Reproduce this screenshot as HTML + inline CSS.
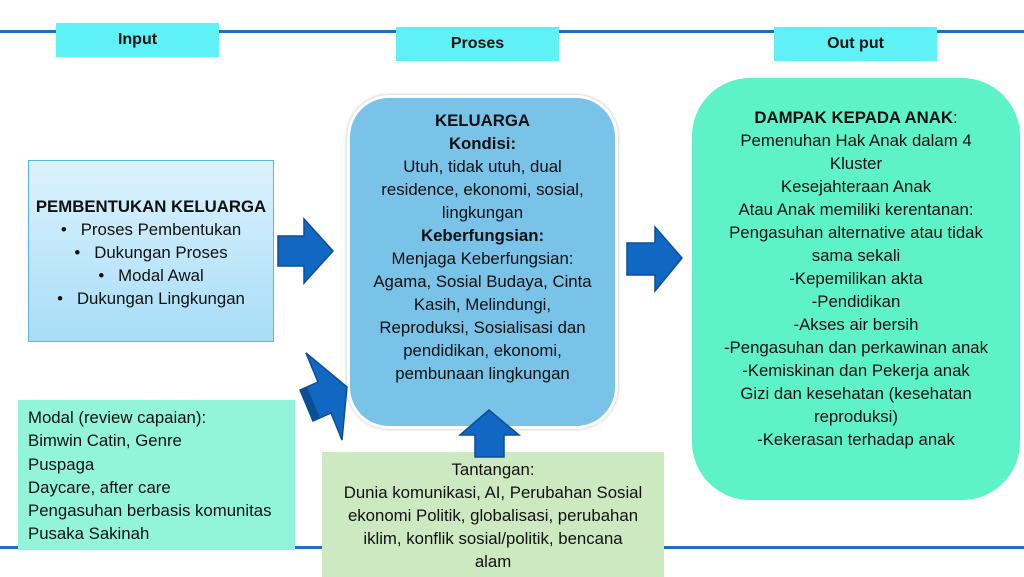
<!DOCTYPE html>
<html><head><meta charset="utf-8"><style>
body{margin:0;width:1024px;height:577px;position:relative;background:#fff;overflow:hidden;font-family:"Liberation Sans",sans-serif;color:#111}
.a{position:absolute}
.t{position:absolute;left:-20px;right:-20px;text-align:center;font-size:16.8px;line-height:23px;white-space:nowrap}
.lbl{position:absolute;background:#5ef2f7;font-weight:bold;font-size:16px;text-align:center}
b{font-weight:bold}
</style></head><body>
<div class="a" style="left:0;top:30px;width:1024px;height:3px;background:#1f6fc6"></div>
<div class="a" style="left:0;top:546px;width:1024px;height:3px;background:#1f6fc6"></div>
<div class="lbl" style="left:56px;top:23px;width:163px;height:34px;line-height:34px">Input</div>
<div class="lbl" style="left:396px;top:27px;width:163px;height:34px;line-height:34px">Proses</div>
<div class="lbl" style="left:774px;top:27px;width:163px;height:34px;line-height:34px">Out put</div>

<div class="a" style="left:28px;top:160px;width:244px;height:180px;border:1px solid #5ab6e6;background:linear-gradient(#dcf2fd,#a8ddf8)">
<div style="position:relative;top:34px">
<div class="t" style="top:0"><b>PEMBENTUKAN KELUARGA</b></div>
<div class="t" style="top:23px">•&nbsp;&nbsp;&nbsp;Proses Pembentukan</div>
<div class="t" style="top:46px">•&nbsp;&nbsp;&nbsp;Dukungan Proses</div>
<div class="t" style="top:69px">•&nbsp;&nbsp;&nbsp;Modal Awal</div>
<div class="t" style="top:92px">•&nbsp;&nbsp;&nbsp;Dukungan Lingkungan</div>
</div></div>

<div class="a" style="left:347px;top:95px;width:265px;height:328px;border:3px solid #fff;border-radius:42px;background:#79c2e8;box-shadow:0 0 3px #bbb">
<div style="position:relative;top:11px">
<div class="t" style="top:0"><b>KELUARGA</b></div>
<div class="t" style="top:23px"><b>Kondisi:</b></div>
<div class="t" style="top:46px">Utuh, tidak utuh, dual</div>
<div class="t" style="top:69px">residence, ekonomi, sosial,</div>
<div class="t" style="top:92px">lingkungan</div>
<div class="t" style="top:115px"><b>Keberfungsian:</b></div>
<div class="t" style="top:138px">Menjaga Keberfungsian:</div>
<div class="t" style="top:161px">Agama, Sosial Budaya, Cinta</div>
<div class="t" style="top:184px">Kasih, Melindungi,</div>
<div class="t" style="top:207px">Reproduksi, Sosialisasi dan</div>
<div class="t" style="top:230px">pendidikan, ekonomi,</div>
<div class="t" style="top:253px">pembunaan lingkungan</div>
</div></div>

<div class="a" style="left:692px;top:78px;width:328px;height:422px;border-radius:58px;background:#5ef2c8">
<div style="position:relative;top:28px">
<div class="t" style="top:0"><b>DAMPAK KEPADA ANAK</b>:</div>
<div class="t" style="top:23px">Pemenuhan Hak Anak dalam 4</div>
<div class="t" style="top:46px">Kluster</div>
<div class="t" style="top:69px">Kesejahteraan Anak</div>
<div class="t" style="top:92px">Atau Anak memiliki kerentanan:</div>
<div class="t" style="top:115px">Pengasuhan alternative atau tidak</div>
<div class="t" style="top:138px">sama sekali</div>
<div class="t" style="top:161px">-Kepemilikan akta</div>
<div class="t" style="top:184px">-Pendidikan</div>
<div class="t" style="top:207px">-Akses air bersih</div>
<div class="t" style="top:230px">-Pengasuhan dan perkawinan anak</div>
<div class="t" style="top:253px">-Kemiskinan dan Pekerja anak</div>
<div class="t" style="top:276px">Gizi dan kesehatan (kesehatan</div>
<div class="t" style="top:299px">reproduksi)</div>
<div class="t" style="top:322px">-Kekerasan terhadap anak</div>
</div></div>

<div class="a" style="left:18px;top:400px;width:277px;height:150px;background:#92f5da">
<div style="position:absolute;left:10px;top:6px;font-size:16.8px;line-height:23.3px;white-space:nowrap">Modal (review capaian):<br>Bimwin Catin, Genre<br>Puspaga<br>Daycare, after care<br>Pengasuhan berbasis komunitas<br>Pusaka Sakinah</div>
</div>

<div class="a" style="left:322px;top:452px;width:342px;height:125px;background:#cce9c1">
<div style="position:relative;top:6px">
<div class="t" style="top:0">Tantangan:</div>
<div class="t" style="top:23px">Dunia komunikasi, AI, Perubahan Sosial</div>
<div class="t" style="top:46px">ekonomi Politik, globalisasi, perubahan</div>
<div class="t" style="top:69px">iklim, konflik sosial/politik, bencana</div>
<div class="t" style="top:92px">alam</div>
</div></div>

<svg class="a" style="left:0;top:0" width="1024" height="577">
<g fill="#1168c2" stroke="#0b4f97" stroke-width="1.5">
<polygon points="278,236 304,236 304,219 333,251 304,283 304,266 278,266"/>
<polygon points="627,243 655,243 655,227 682,258 655,291 655,275 627,275"/>
<polygon points="475,457 475,435 460,435 489,410 519,435 504,435 504,457"/>
<polygon points="300,390 318,382 306,353 347,387 342,440 331,413 313,421"/>
</g>
<polygon points="300,390 313,421 320,418 307,387" fill="#0a4e95"/>
</svg>
</body></html>
